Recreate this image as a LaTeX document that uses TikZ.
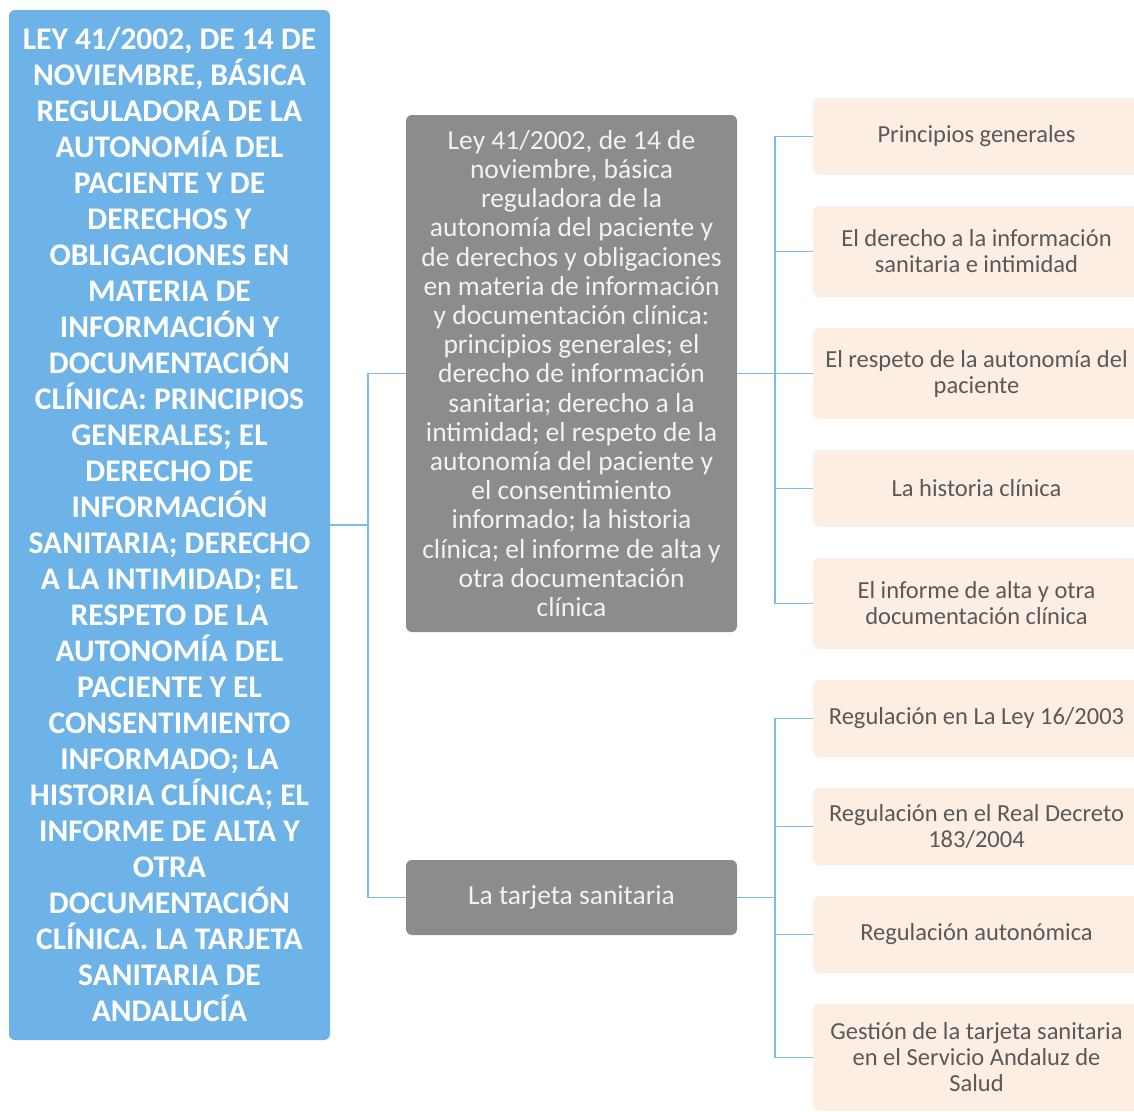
\documentclass[tikz,border=0pt]{standalone}
\usepackage{fontspec}
\setmainfont{Carlito}
\definecolor{leyblue}{HTML}{6DB3E8}
\definecolor{boxgray}{HTML}{8C8C8C}
\definecolor{peach}{HTML}{FDEEE3}
\definecolor{peachtext}{HTML}{595959}
\definecolor{linkblue}{HTML}{7DBBEB}
\begin{document}
\begin{tikzpicture}[x=1pt,y=-1pt,
  bluebox/.style={fill=leyblue,rounded corners=6pt,align=center,text=white,
    font=\bfseries\fontsize{31.5}{36}\selectfont,minimum width=321pt,minimum height=1030pt},
  graybox/.style={fill=boxgray,rounded corners=6pt,align=center,text=white!95!black,
    font=\fontsize{27.5}{29.2}\selectfont,minimum width=331pt},
  peachbox/.style={fill=peach,rounded corners=6pt,align=center,text=peachtext,
    font=\fontsize{24.5}{26}\selectfont,minimum width=327pt},
  conn/.style={draw=linkblue,line width=1.7pt}]
\clip (0,0) rectangle (1134,1111);
\useasboundingbox (0,0) rectangle (1134,1111);
%Main box
\node[bluebox] (ley) at (169.5,525) {LEY 41/2002, DE 14 DE\\NOVIEMBRE, BÁSICA\\REGULADORA DE LA\\AUTONOMÍA DEL\\PACIENTE Y DE\\DERECHOS Y\\OBLIGACIONES EN\\MATERIA DE\\INFORMACIÓN Y\\DOCUMENTACIÓN\\CLÍNICA: PRINCIPIOS\\GENERALES; EL\\DERECHO DE\\INFORMACIÓN\\SANITARIA; DERECHO\\A LA INTIMIDAD; EL\\RESPETO DE LA\\AUTONOMÍA DEL\\PACIENTE Y EL\\CONSENTIMIENTO\\INFORMADO; LA\\HISTORIA CLÍNICA; EL\\INFORME DE ALTA Y\\OTRA\\DOCUMENTACIÓN\\CLÍNICA. LA TARJETA\\SANITARIA DE\\ANDALUCÍA};
%Second level
\node[graybox,minimum height=517pt] (leyA) at (571.5,373.5) {Ley 41/2002, de 14 de\\noviembre, básica\\reguladora de la\\autonomía del paciente y\\de derechos y obligaciones\\en materia de información\\y documentación clínica:\\principios generales; el\\derecho de información\\sanitaria; derecho a la\\intimidad; el respeto de la\\autonomía del paciente y\\el consentimiento\\informado; la historia\\clínica; el informe de alta y\\otra documentación\\clínica};
\node[graybox,minimum height=75pt] (tarjeta) at (571.5,897.5) {La tarjeta sanitaria};
%Third level
\node[peachbox,minimum height=77pt] (p1) at (976.5,136.5) {Principios generales};
\node[peachbox,minimum height=91pt] (p2) at (976.5,251.5) {El derecho a la información\\sanitaria e intimidad};
\node[peachbox,minimum height=91pt] (p3) at (976.5,373.5) {El respeto de la autonomía del\\paciente};
\node[peachbox,minimum height=77pt] (p4) at (976.5,488.5) {La historia clínica};
\node[peachbox,minimum height=91pt] (p5) at (976.5,603.5) {El informe de alta y otra\\documentación clínica};
\node[peachbox,minimum height=77pt] (t1) at (976.5,718.5) {Regulación en La Ley 16/2003};
\node[peachbox,minimum height=77pt] (t2) at (976.5,826.5) {Regulación en el Real Decreto\\183/2004};
\node[peachbox,minimum height=77pt] (t3) at (976.5,934.5) {Regulación autonómica};
\node[peachbox,minimum height=107pt] (t4) at (976.5,1057.5) {Gestión de la tarjeta sanitaria\\en el Servicio Andaluz de\\Salud};
%Connectors
\draw[conn] (ley.east) -- ++(38,0) coordinate (j0);
\foreach \n in {leyA,tarjeta} \draw[conn] (j0) |- (\n.west);
\draw[conn] (leyA.east) -- ++(38,0) coordinate (j1);
\foreach \n in {p1,p2,p3,p4,p5} \draw[conn] (j1) |- (\n.west);
\draw[conn] (tarjeta.east) -- ++(38,0) coordinate (j2);
\foreach \n in {t1,t2,t3,t4} \draw[conn] (j2) |- (\n.west);
\end{tikzpicture}
\end{document}
